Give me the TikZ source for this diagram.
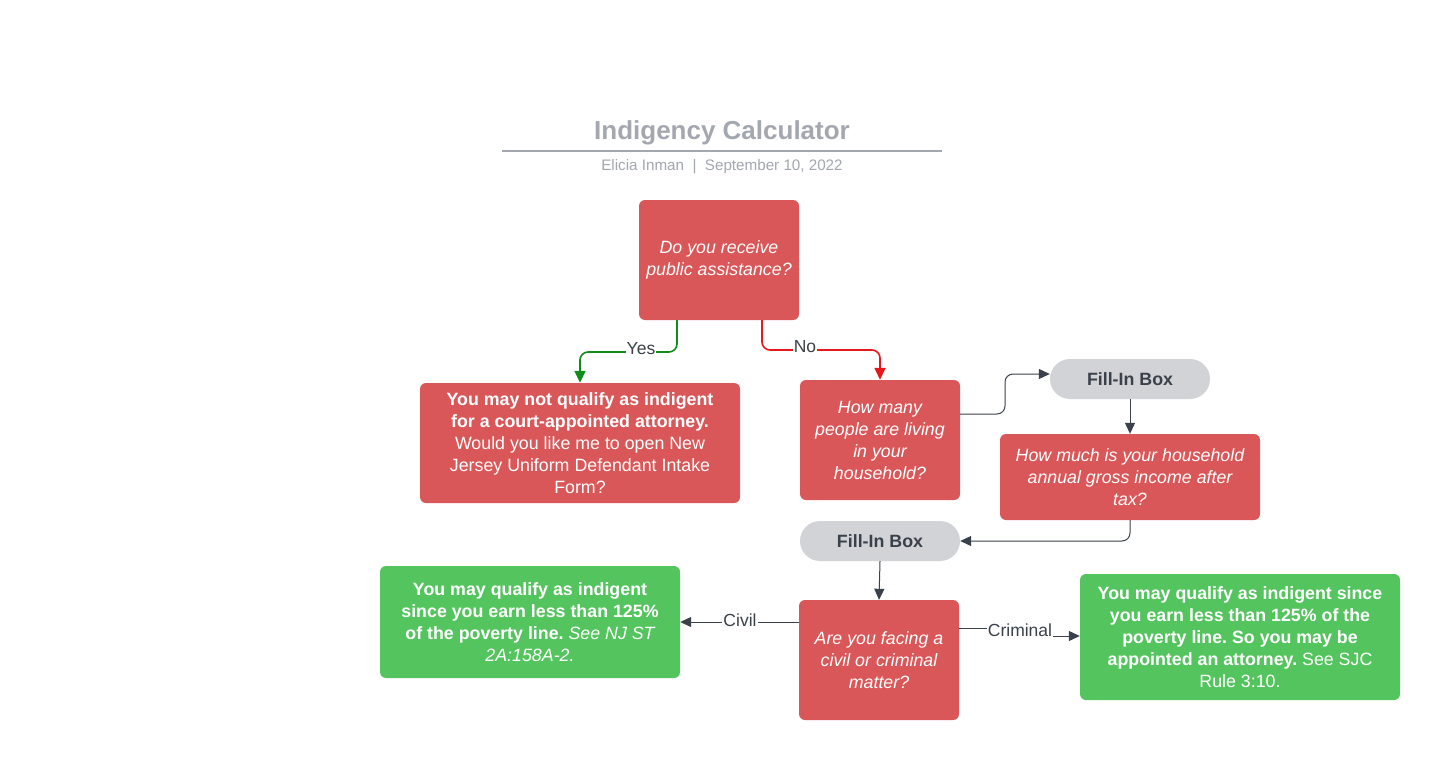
\documentclass[tikz,border=0pt]{standalone}
\usepackage{fontspec}
\setmainfont{Liberation Sans}
\frenchspacing
\usetikzlibrary{arrows.meta,shapes.misc}
\definecolor{boxred}{RGB}{217,87,89}
\definecolor{boxgreen}{RGB}{84,196,94}
\definecolor{pillgrey}{RGB}{210,211,214}
\definecolor{titlegrey}{RGB}{163,167,176}
\definecolor{inkdark}{RGB}{58,65,74}
\definecolor{yesgreen}{RGB}{16,140,24}
\definecolor{nored}{RGB}{232,24,26}
\tikzset{
  card/.style={draw=none, rounded corners=6pt, text=white, align=center,
    inner sep=0pt, font=\fontsize{17.8}{22}\selectfont},
  qbox/.style={card, fill=boxred, font=\fontsize{17.8}{22}\selectfont\itshape},
  abox/.style={card, fill=boxred},
  gbox/.style={card, fill=boxgreen},
  pill/.style={rounded rectangle, fill=pillgrey, text=inkdark, inner sep=0pt,
    minimum width=160pt, minimum height=40pt, font=\fontsize{17.8}{20}\selectfont\bfseries},
  flow/.style={line width=1.6pt, rounded corners=8pt, -{Triangle[length=12pt,width=11pt]}},
  link/.style={line width=1pt, inkdark, rounded corners=8pt, -{Triangle[length=11pt,width=10pt]}},
  tag/.style={fill=white, inner sep=1pt, text=inkdark, font=\fontsize{17.5}{20}\selectfont}
}
\begin{document}
\begin{tikzpicture}[x=1pt,y=-1pt]
\useasboundingbox (0,0) rectangle (1440,760);
\fill[white] (0,0) rectangle (1440,760);

% heading
\node[text=titlegrey, font=\fontsize{26}{30}\selectfont\bfseries] (title) at (722,132.5) {Indigency Calculator};
\draw[titlegrey, line width=2pt] (502,151) -- (942,151);
\node[text=titlegrey, font=\fontsize{15.2}{18}\selectfont] (byline) at (722,167) {Elicia Inman\ \ |\ \ September 10, 2022};

% boxes
\node[qbox, minimum width=160pt, minimum height=120pt] (q1) at (719,260)
  {Do you receive\\public assistance?};
\node[abox, minimum width=320pt, minimum height=120pt] (nq) at (580,443)
  {\bfseries You may not qualify as indigent\\\bfseries for a court-appointed attorney.\\Would you like me to open New\\Jersey Uniform Defendant Intake\\Form?};
\node[qbox, minimum width=160pt, minimum height=120pt] (q2) at (880,440)
  {How many\\people are living\\in your\\household?};
\node[pill] (f1) at (1130,379) {Fill-In Box};
\node[qbox, minimum width=260pt, minimum height=86pt] (q3) at (1130,477)
  {How much is your household\\annual gross income after\\tax?};
\node[pill] (f2) at (880,541) {Fill-In Box};
\node[qbox, minimum width=160pt, minimum height=120pt] (q4) at (879,660)
  {Are you facing a\\civil or criminal\\matter?};
\node[gbox, minimum width=300pt, minimum height=112pt] (civ) at (530,622)
  {\bfseries You may qualify as indigent\\\bfseries since you earn less than 125\%\\\bfseries of the poverty line. \mdseries\itshape See NJ ST\\\itshape 2A:158A-2.};
\node[gbox, minimum width=320pt, minimum height=126pt] (crim) at (1240,637)
  {\bfseries You may qualify as indigent since\\\bfseries you earn less than 125\% of the\\\bfseries poverty line. So you may be\\\bfseries appointed an attorney. \mdseries See SJC\\Rule 3:10.};

% connectors
\draw[flow, yesgreen] ([xshift=-42pt]q1.south) |- (620,352) -| (nq.north);
\node[tag] (yes) at (641,349) {Yes};
\draw[flow, nored] ([xshift=43pt]q1.south) |- (840,350) -| (q2.north);
\node[tag] (no) at (805,347) {No};

\draw[link] ([yshift=26pt]q2.east) -- (1005,414) -- (1005,374) -- ([yshift=5pt]f1.west);
\draw[link] (f1.south) -- (q3.north);
\draw[link] (q3.south) |- (f2.east);
\draw[link] (f2.south) -- (q4.north);
\draw[link, rounded corners=0pt] ([yshift=38pt]q4.west) -- ([yshift=38pt]q4.west -| civ.east);
\node[tag] (civil) at (740,620) {Civil};
\draw[link, rounded corners=0pt] ([yshift=32pt]q4.east) -- (1052,628) -- (1052,636) -- ([yshift=1pt]crim.west);
\node[tag] (criminal) at (1020,630) {Criminal};
\end{tikzpicture}
\end{document}
